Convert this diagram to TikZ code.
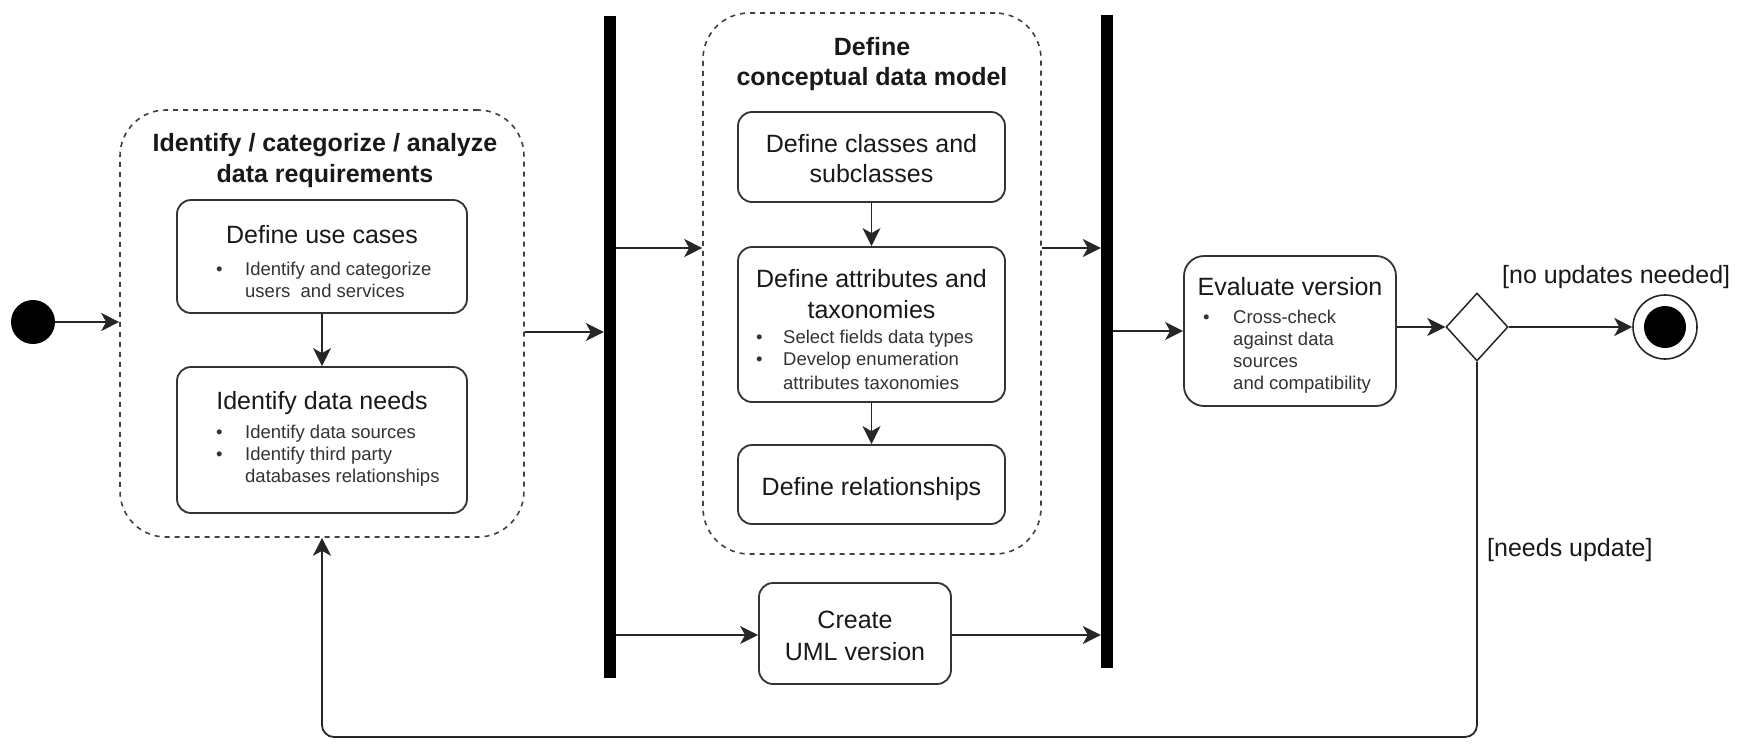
\documentclass[tikz,border=0pt]{standalone}
\usepackage{fontspec}
\setmainfont{Liberation Sans}
\usetikzlibrary{arrows.meta,shapes.geometric}
\begin{document}
\begin{tikzpicture}[x=1pt,y=-1pt,
  actbox/.style={draw=black!80, line width=1.8pt, rounded corners=14pt, inner sep=0pt, fill=white},
  dashbox/.style={draw=black!75, line width=1.6pt, dash pattern=on 5pt off 5pt, rounded corners=46pt, inner sep=0pt},
  syncbar/.style={fill=black, draw=none, inner sep=0pt, minimum width=12pt},
  conn/.style={draw=black!85, line width=1.8pt, -{Stealth[length=18pt,width=18pt,inset=5pt]}},
  lblbig/.style={font=\fontsize{25}{30}\selectfont, inner sep=0pt, anchor=base, text=black!90},
  lblbold/.style={font=\bfseries\fontsize{25}{30}\selectfont, inner sep=0pt, anchor=base, text=black!90},
  lblsmall/.style={font=\fontsize{18.5}{22}\selectfont, inner sep=0pt, anchor=base west, text=black!80},
  lblguard/.style={font=\fontsize{25}{30}\selectfont, inner sep=0pt, anchor=base west, text=black!90},
]
\useasboundingbox (0,0) rectangle (1737,744);

% y-levels of horizontal connectors
\coordinate (yA) at (0,332);
\coordinate (yB) at (0,248);
\coordinate (yC) at (0,635);
\coordinate (yBot) at (0,737);

% start node
\node[circle, fill=black, minimum size=44pt, inner sep=0pt] (start) at (33,322) {};

% ---------- group 1 ----------
\node[dashbox, minimum width=404pt, minimum height=427pt] (d1) at (322,323.5) {};
\node[lblbold] (d1t1) at (325,151) {Identify / categorize / analyze};
\node[lblbold] (d1t2) at (325,182) {data requirements};

\node[actbox, minimum width=290pt, minimum height=113pt] (b1a) at (322,256.5) {};
\node[lblbig] (b1at) at (322,243) {Define use cases};
\node[lblsmall] (b1ab) at (216,275) {•};
\node[lblsmall] (b1a1) at (245,275) {Identify and categorize};
\node[lblsmall] (b1a2) at (245,297) {users\ \ and services};

\node[actbox, minimum width=290pt, minimum height=146pt] (b1b) at (322,440) {};
\node[lblbig] (b1bt) at (322,409) {Identify data needs};
\node[lblsmall] (b1bb1) at (216,438) {•};
\node[lblsmall] (b1b1) at (245,438) {Identify data sources};
\node[lblsmall] (b1bb2) at (216,460) {•};
\node[lblsmall] (b1b2) at (245,460) {Identify third party};
\node[lblsmall] (b1b3) at (245,482) {databases relationships};

% ---------- fork bar ----------
\node[syncbar, minimum height=662pt] (bar1) at (610,347) {};

% ---------- group 2 ----------
\node[dashbox, minimum width=338pt, minimum height=541pt] (d2) at (872,283.5) {};
\node[lblbold] (d2t1) at (872,55) {Define};
\node[lblbold] (d2t2) at (872,85) {conceptual data model};

\node[actbox, minimum width=267pt, minimum height=90pt] (b2a) at (871.5,157) {};
\node[lblbig] (b2at1) at (871.5,152) {Define classes and};
\node[lblbig] (b2at2) at (871.5,182) {subclasses};

\node[actbox, minimum width=267pt, minimum height=155pt] (b2b) at (871.5,324.5) {};
\node[lblbig] (b2bt1) at (871.5,287) {Define attributes and};
\node[lblbig] (b2bt2) at (871.5,318) {taxonomies};
\node[lblsmall] (b2bb1) at (756,343) {•};
\node[lblsmall] (b2b1) at (783,343) {Select fields data types};
\node[lblsmall] (b2bb2) at (756,365) {•};
\node[lblsmall] (b2b2) at (783,365) {Develop enumeration};
\node[lblsmall] (b2b3) at (783,389) {attributes taxonomies};

\node[actbox, minimum width=267pt, minimum height=79pt] (b2c) at (871.5,484.5) {};
\node[lblbig] (b2ct) at (871.5,495) {Define relationships};

% ---------- UML box ----------
\node[actbox, minimum width=192pt, minimum height=101pt] (uml) at (855,633.5) {};
\node[lblbig] (umlt1) at (855,628) {Create};
\node[lblbig] (umlt2) at (855,660) {UML version};

% ---------- join bar ----------
\node[syncbar, minimum height=653pt] (bar2) at (1107,341.5) {};

% ---------- evaluate ----------
\node[actbox, rounded corners=20pt, minimum width=212pt, minimum height=150pt] (ev) at (1290,331) {};
\node[lblbig] (evt) at (1290,295) {Evaluate version};
\node[lblsmall] (evb) at (1203,323) {•};
\node[lblsmall] (ev1) at (1233,323) {Cross-check};
\node[lblsmall] (ev2) at (1233,345) {against data};
\node[lblsmall] (ev3) at (1233,367) {sources};
\node[lblsmall] (ev4) at (1233,389) {and compatibility};

% ---------- decision and end ----------
\node[diamond, draw=black!85, line width=1.5pt, minimum width=62pt, minimum height=68pt, inner sep=0pt] (dia) at (1477,327) {};
\node[circle, draw=black!85, line width=1.6pt, minimum size=64pt, inner sep=0pt] (final) at (1665,327) {};
\fill[black] (final.center) circle[radius=21pt];

\node[lblguard] (gno) at (1502,283) {[no updates needed]};
\node[lblguard] (gup) at (1487,556) {[needs update]};

% ---------- connectors ----------
\draw[conn] (start) -- (start -| d1.west);
\draw[conn] (b1a) -- (b1b);
\draw[conn] (d1.east |- yA) -- (bar1.west |- yA);
\draw[conn] (bar1.east |- yB) -- (d2.west |- yB);
\draw[conn] (bar1.east |- yC) -- (uml.west |- yC);
\draw[conn] (b2a) -- (b2b);
\draw[conn] (b2b) -- (b2c);
\draw[conn] (d2.east |- yB) -- (bar2.west |- yB);
\draw[conn] (uml.east |- yC) -- (bar2.west |- yC);
\draw[conn] (bar2.east |- ev.west) -- (ev.west);
\draw[conn] (ev.east |- dia.west) -- (dia.west);
\draw[conn] (dia.east) -- (final.west);
\draw[conn, rounded corners=12pt] (dia.south) -- (dia.south |- yBot) -- (d1.south |- yBot) -- (d1.south);
\end{tikzpicture}
\end{document}
